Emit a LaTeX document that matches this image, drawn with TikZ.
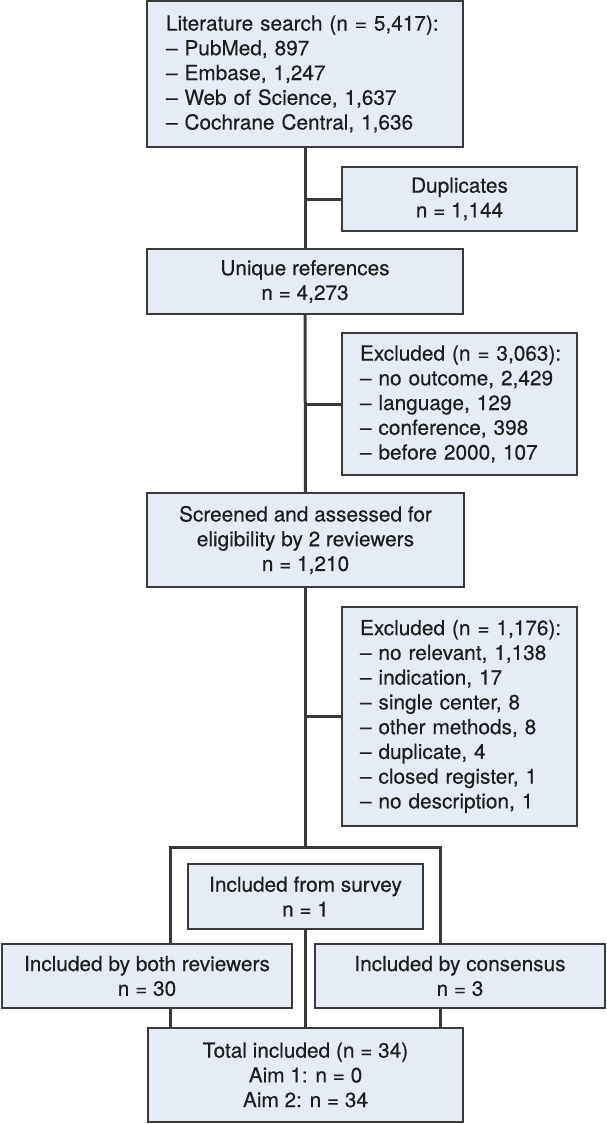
\documentclass[tikz,border=0pt]{standalone}
\usepackage{fontspec}
\setmainfont{TeX Gyre Heros}
\definecolor{boxfill}{HTML}{E6ECF6}
\definecolor{boxline}{HTML}{3A3A3A}
\definecolor{txt}{HTML}{1E1E1E}
\tikzset{
  box/.style={draw=boxline, fill=boxfill, line width=1.5pt, text=txt, inner sep=0pt,
    font=\fontsize{20.8}{24.75}\selectfont\addfontfeatures{FakeBold=0.3}, align=center},
  listbox/.style={box, align=left, inner xsep=19pt},
  link/.style={draw=boxline, line width=3pt},
}
\begin{document}
\begin{tikzpicture}[x=1pt,y=-1pt]
\useasboundingbox (0,0) rectangle (607,1124);
\node[listbox, text width=278pt, minimum height=146pt] (top) at (305,74)
  {\mbox{Literature search (n = 5,417):}\\\mbox{– PubMed, 897}\\\mbox{– Embase, 1,247}\\\mbox{– Web of Science, 1,637}\\\mbox{– Cochrane Central, 1,636}};
\node[box, minimum width=235pt, minimum height=64pt] (dup) at (459.5,199) {Duplicates\\n = 1,144};
\node[box, minimum width=316pt, minimum height=65pt] (uniq) at (305,281.5) {Unique references\\n = 4,273};
\node[listbox, inner xsep=18pt, text width=199pt, minimum height=142pt] (exc1) at (459.5,404)
  {\mbox{Excluded (n = 3,063):}\\\mbox{– no outcome, 2,429}\\\mbox{– language, 129}\\\mbox{– conference, 398}\\\mbox{– before 2000, 107}};
\node[box, minimum width=317pt, minimum height=94pt] (scr) at (305.5,540)
  {Screened and assessed for\\eligibility by 2 reviewers\\n = 1,210};
\node[listbox, inner xsep=18pt, text width=199pt, minimum height=219pt] (exc2) at (459.5,716.5)
  {\mbox{Excluded (n = 1,176):}\\\mbox{– no relevant, 1,138}\\\mbox{– indication, 17}\\\mbox{– single center, 8}\\\mbox{– other methods, 8}\\\mbox{– duplicate, 4}\\\mbox{– closed register, 1}\\\mbox{– no description, 1}};
\node[box, minimum width=235pt, minimum height=65pt] (survey) at (305.5,896.5) {Included from survey\\n = 1};
\node[box, minimum width=290pt, minimum height=64pt] (both) at (147,976) {Included by both reviewers\\n = 30};
\node[box, minimum width=290pt, minimum height=64pt] (cons) at (460,976) {Included by consensus\\n = 3};
\node[box, minimum width=315pt, minimum height=94pt] (total) at (305.5,1075)
  {Total included (n = 34)\\Aim 1: n = 0\\Aim 2: n = 34};
\coordinate (brc) at (305.5,847);
\coordinate (brl) at (170,847);
\coordinate (brr) at (440,847);
\draw[link] (top.south) -- (uniq.north);
\draw[link] (top.south |- dup.west) -- (dup.west);
\draw[link] (uniq.south) -- (scr.north);
\draw[link] (uniq.south |- exc1.west) -- (exc1.west);
\draw[link] (scr.south) -- (brc);
\draw[link] (scr.south |- exc2.west) -- (exc2.west);
\draw[link] (both.north -| brl) -- (brl) -- (brr) -- (cons.north -| brr);
\draw[link] (both.south -| brl) -- (total.north -| brl);
\draw[link] (cons.south -| brr) -- (total.north -| brr);
\draw[link] (survey.south) -- (total.north);
\end{tikzpicture}
\end{document}
